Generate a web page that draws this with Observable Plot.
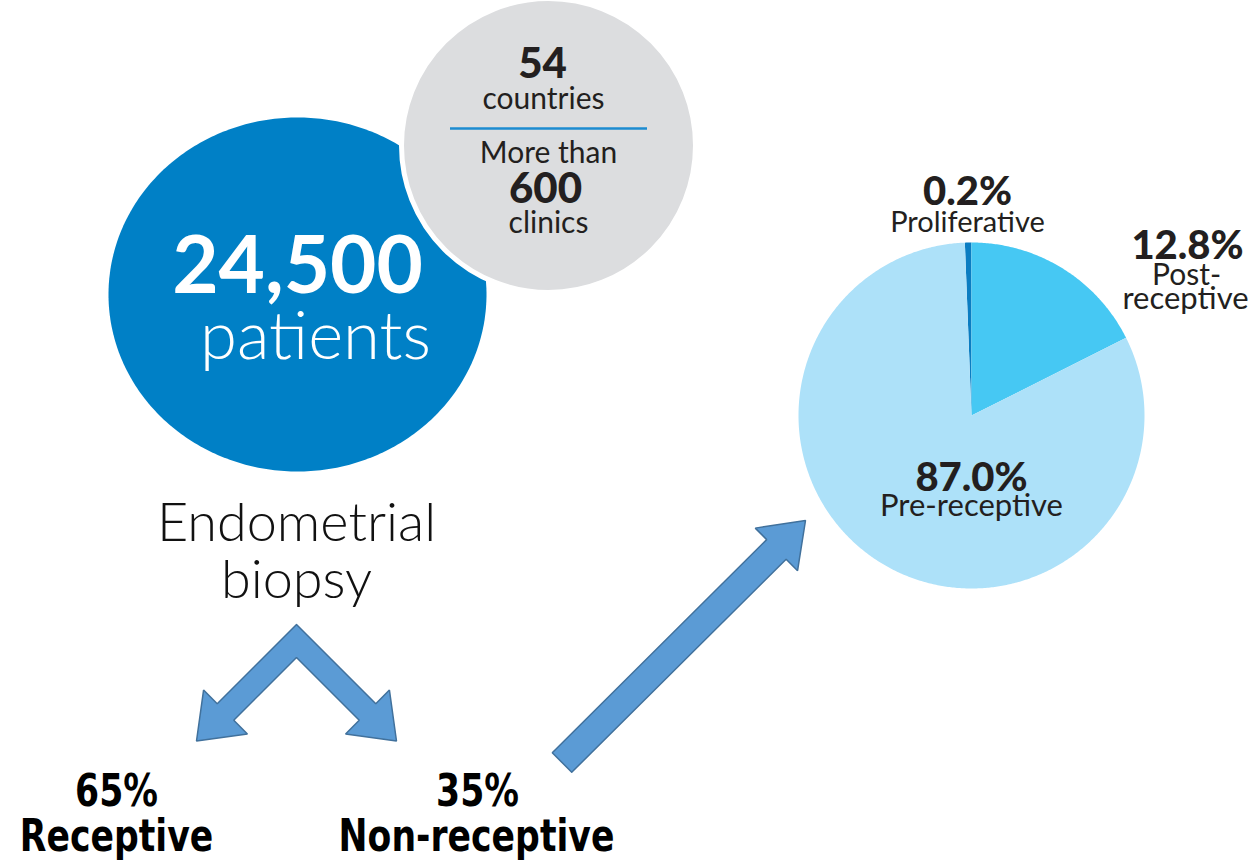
<!DOCTYPE html>
<html><head><meta charset="utf-8">
<script src="https://cdn.jsdelivr.net/npm/d3@7"></script>
<script src="https://cdn.jsdelivr.net/npm/@observablehq/plot@0.6"></script>
<style>html,body{margin:0;padding:0;background:#fff;overflow:hidden}</style>
</head><body><div id="chart"></div>
<script>
// ---------- data ----------
const totalPatients = "24,500";
const patientsUnit = "patients";
const countriesCount = 54;
const clinicsCount = 600;
const sampleLabel = ["Endometrial", "biopsy"];
const outcomeLabels = ["Receptive", "Non-receptive"];
const outcomeShares = [65, 35];
const phaseLabels = [["Proliferative"], ["Post-", "receptive"], ["Pre-receptive"]];
const phaseShares = [0.2, 12.8, 87.0];          // values printed on the chart
const phaseDrawnShares = [0.6, 17.6, 81.8];     // slice sizes as drawn in the picture
const phaseColors = ["#0a7dc2", "#46c8f3", "#ade1f9"];

// ---------- layout ----------
const W = 1256, H = 861;
const INK = "#231f20";
const FONT = "Lato, 'Noto Sans', sans-serif";
const NARROW = "DejaVu Sans";   // horizontally condensed after rendering
const NARROW_FACTOR = 0.77;
const blueDisc = {cx: 297, cy: 294, rx: 189, ry: 177, fill: "#0080c6"};
const grayDisc = {cx: 548, cy: 145, r: 147, fill: "#dcdddf"};
const pie = {cx: 971, cy: 415, r: 173, startDeg: -2.2};
const arrowStyle = {fill: "#5b9bd5", stroke: "#41719c", strokeWidth: 1.5};

// ---------- geometry helpers ----------
function ellipsePts(e, id) {
  return d3.range(0, 361, 1).map(a => {
    const t = a * Math.PI / 180;
    return {id, x: e.cx + e.rx * Math.cos(t), y: e.cy + e.ry * Math.sin(t)};
  });
}
const slicePts = [];
{
  let acc = pie.startDeg;
  const tot = d3.sum(phaseDrawnShares);
  phaseDrawnShares.forEach((v, i) => {
    const a0 = acc, a1 = acc + v / tot * 360;
    acc = a1;
    const n = Math.max(2, Math.ceil((a1 - a0) / 0.5));
    slicePts.push({slice: i, color: phaseColors[i], x: pie.cx, y: pie.cy});
    for (let k = 0; k <= n; k++) {
      const a = (a0 + (a1 - a0) * k / n) * Math.PI / 180;
      slicePts.push({slice: i, color: phaseColors[i], x: pie.cx + pie.r * Math.sin(a), y: pie.cy - pie.r * Math.cos(a)});
    }
    slicePts.push({slice: i, color: phaseColors[i], x: pie.cx, y: pie.cy});
  });
}
const add = (p, q, s = 1) => [p[0] + q[0] * s, p[1] + q[1] * s];
function unit(p, q) { const dx = q[0] - p[0], dy = q[1] - p[1], l = Math.hypot(dx, dy); return [dx / l, dy / l]; }
function blockArrow(tail, tip, hs, hh, hl) {
  const u = unit(tail, tip), e = [-u[1], u[0]];
  const B = add(tip, u, -hl);
  const pts = [add(tail, e, hs), add(B, e, hs), add(B, e, hh), tip, add(B, e, -hh), add(B, e, -hs), add(tail, e, -hs)];
  pts.push(pts[0]);
  return pts.map(([x, y]) => ({x, y}));
}
function chevron(A, tipL, tipR, hs, hh, hl) {
  const uR = unit(A, tipR), uL = unit(A, tipL);
  const sinPhi = Math.sqrt(1 - uR[1] * uR[1]);
  const outer = [A[0], A[1] - hs / sinPhi], inner = [A[0], A[1] + hs / sinPhi];
  const arm = (T, u) => {
    let e = [-u[1], u[0]]; if (e[1] > 0) e = [-e[0], -e[1]];
    const B = add(T, u, -hl);
    return [add(B, e, hs), add(B, e, hh), T, add(B, e, -hh), add(B, e, -hs)];
  };
  const pts = [outer, ...arm(tipR, uR), inner, ...arm(tipL, uL).reverse(), outer];
  return pts.map(([x, y]) => ({x, y}));
}
const chevronPts = chevron([296, 640.5], [196, 740.5], [396, 740.5], 11.7, 31, 41);
const bigArrowPts = blockArrow([561.5, 762], [805, 520], 13.8, 30, 41);

// ---------- texts ----------
const texts = [
  {x: 297, y: 292, text: totalPatients, size: 80, weight: 700, fill: "#fff", font: FONT},
  {x: 315, y: 358, text: patientsUnit, size: 67, weight: 300, fill: "#fff", font: FONT},
  {x: 542, y: 77, text: String(countriesCount), size: 42, weight: 900, fill: INK, font: FONT},
  {x: 543, y: 108, text: "countries", size: 30, weight: 400, fill: INK, font: FONT},
  {x: 548, y: 162, text: "More than", size: 30, weight: 400, fill: INK, font: FONT},
  {x: 545, y: 202, text: String(clinicsCount), size: 42, weight: 900, fill: INK, font: FONT},
  {x: 548, y: 232, text: "clinics", size: 30, weight: 400, fill: INK, font: FONT},
  {x: 296, y: 540, text: sampleLabel[0], size: 54, weight: 300, fill: "#111", font: FONT},
  {x: 296, y: 597, text: sampleLabel[1], size: 54, weight: 300, fill: "#111", font: FONT},
  // outcomes
  {x: 116, y: 805, text: `${outcomeShares[0]}%`, size: 45, weight: 700, fill: "#000", font: NARROW},
  {x: 116, y: 850, text: outcomeLabels[0], size: 45, weight: 700, fill: "#000", font: NARROW},
  {x: 477, y: 805, text: `${outcomeShares[1]}%`, size: 45, weight: 700, fill: "#000", font: NARROW},
  {x: 476, y: 850, text: outcomeLabels[1], size: 45, weight: 700, fill: "#000", font: NARROW},
  // pie labels
  {x: 967, y: 204, text: `${phaseShares[0].toFixed(1)}%`, size: 40, weight: 900, fill: INK, font: FONT},
  {x: 967, y: 231, text: phaseLabels[0][0], size: 29, weight: 400, fill: INK, font: FONT},
  {x: 1187, y: 258, text: `${phaseShares[1].toFixed(1)}%`, size: 40, weight: 900, fill: INK, font: FONT},
  {x: 1186, y: 284, text: phaseLabels[1][0], size: 30, weight: 400, fill: INK, font: FONT},
  {x: 1185, y: 308, text: phaseLabels[1][1], size: 31, weight: 400, fill: INK, font: FONT},
  {x: 971, y: 490, text: `${phaseShares[2].toFixed(1)}%`, size: 40, weight: 900, fill: INK, font: FONT},
  {x: 971, y: 515, text: phaseLabels[2][0], size: 31, weight: 400, fill: INK, font: FONT}
];
const textMarks = texts.map(t => Plot.text([t], {
  x: "x", y: "y", text: "text", fill: t.fill, fontSize: t.size, fontWeight: t.weight,
  fontFamily: t.font, textAnchor: "middle", lineAnchor: "bottom"
}));

const chart = Plot.plot({
  width: W, height: H,
  margin: 0,
  x: {domain: [0, W], range: [0, W], axis: null},
  y: {domain: [0, H], range: [0, H], axis: null},
  color: {type: "identity"},
  marks: [
    Plot.line(ellipsePts(blueDisc, "blue"), {x: "x", y: "y", fill: blueDisc.fill, stroke: "none", curve: "linear"}),
    Plot.dot([grayDisc], {x: "cx", y: "cy", r: grayDisc.r, fill: grayDisc.fill, stroke: "#fff", strokeWidth: 5}),
    Plot.ruleY([128], {x1: 450, x2: 647, stroke: "#1c8bd1", strokeWidth: 2.5}),
    Plot.line(slicePts, {x: "x", y: "y", z: "slice", fill: "color", stroke: "none", curve: "linear"}),
    Plot.line(chevronPts, {x: "x", y: "y", ...arrowStyle, strokeLinejoin: "miter", curve: "linear"}),
    Plot.line(bigArrowPts, {x: "x", y: "y", ...arrowStyle, strokeLinejoin: "miter", curve: "linear"}),
    ...textMarks
  ]
});
document.getElementById("chart").appendChild(chart);
// condense the bold outcome labels horizontally (the reference uses a narrow bold face)
d3.select(chart).selectAll(`g[font-family="${NARROW}"] text`).each(function () {
  const w = this.getComputedTextLength();
  d3.select(this).attr("textLength", w * NARROW_FACTOR).attr("lengthAdjust", "spacingAndGlyphs");
});
</script>
</body></html>
